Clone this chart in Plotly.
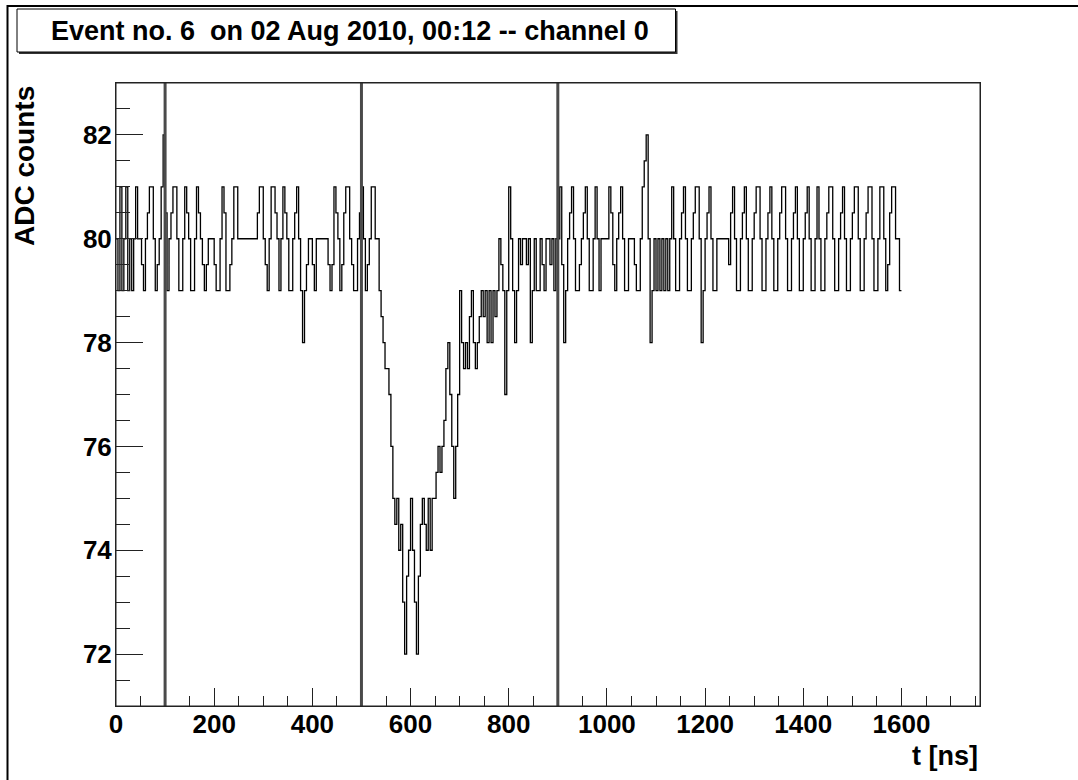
import numpy as np
import plotly.graph_objects as go

# ADC samples, one every 4 ns
sample_ns = 4
adc = [
    80, 79, 81, 79, 80, 81, 79, 80, 79, 80,
    81, 80, 80, 79.5, 79, 80, 80.5, 81, 81, 80,
    79, 79.5, 80, 81, 82, 80.5, 79, 80, 80.5, 81,
    81, 80, 79, 79, 80, 81, 80.5, 80, 79, 79,
    80, 81, 80.5, 80, 79.5, 79, 79.5, 80, 80, 80,
    79.5, 79, 79, 80, 81, 80.5, 79, 79, 79.5, 80,
    81, 81, 80, 80, 80, 80, 80, 80, 80, 80,
    80, 80, 80.5, 81, 81, 80, 79.5, 79, 80, 81,
    81, 80.5, 80, 79, 80, 81, 80.5, 80, 79, 79,
    80, 80.5, 81, 80, 79, 78, 79, 79.5, 80, 80,
    79.5, 79, 80, 80, 80, 80, 80, 80, 79.5, 79,
    79.5, 81, 80.5, 80, 79, 79.5, 80.5, 81, 81, 80,
    79.5, 79, 79, 80, 80.5, 81, 80, 79, 79.5, 80,
    81, 81, 80, 80, 79, 78.5, 78, 77.5, 77.5, 77,
    76, 75, 74.5, 75, 74, 74.5, 73, 72, 73.5, 74,
    75, 74, 73, 72, 73.5, 74.5, 75, 74.5, 74, 75,
    74, 75, 75, 75.5, 76, 75.5, 76, 76.5, 77.5, 78,
    77, 76, 75, 76, 77, 79, 78, 77.5, 78, 77.5,
    78.5, 79, 78, 77.5, 78, 78.5, 79, 78.5, 79, 78,
    79, 78, 79, 78.5, 79, 80, 79.5, 79, 77, 79,
    81, 80, 79, 78, 79, 80, 79.5, 80, 80, 79.5,
    80, 78, 79, 80, 79, 79, 80, 79.5, 79, 80,
    80, 79.5, 80, 79, 80, 80, 81, 79.5, 78, 79,
    80, 80.5, 81, 80, 79, 79, 79.5, 80, 80.5, 81,
    80, 79, 79, 80, 81, 80, 79, 80, 80, 80,
    80, 81, 80.5, 79.5, 79, 80, 80.5, 81, 80, 79,
    79, 80, 80, 80, 79.5, 79, 79, 80, 81, 81.5,
    82, 80, 78, 79, 80, 79, 80, 79, 80, 79,
    80, 79, 80, 81, 80, 79, 79, 80, 80.5, 81,
    80, 79, 79, 80, 80.5, 81, 81, 80, 78, 79,
    80, 80.5, 81, 80, 79, 79, 80, 80, 80, 80,
    80, 80, 79.5, 80.5, 81, 80, 79, 79, 80, 80.5,
    81, 80, 79, 79, 80, 80.5, 81, 81, 80, 79,
    79, 80, 80.5, 81, 80, 79, 79, 80, 80.5, 81,
    81, 80, 79, 79, 80, 80.5, 81, 80, 79, 79,
    80, 80.5, 81, 80, 79, 79, 80, 81, 80, 79,
    79, 80, 80.5, 81, 81, 80, 79, 79, 80, 80.5,
    81, 80, 79, 79, 80, 80.5, 81, 81, 80, 79,
    79, 80, 80.5, 81, 81, 80, 79, 79, 80, 81,
    81, 80, 79, 79.5, 80.5, 81, 81, 80, 80, 79,
]
marker_lines_ns = [100, 500, 900]
x_range = [0, 1760]
y_range = [71, 83]
title_text = "Event no. 6 \u00a0on 02 Aug 2010, 00:12 -- channel 0"
x_title = "t [ns]"
y_title = "ADC counts"

# bin edges (step histogram)
t = np.arange(len(adc) + 1) * sample_ns
y = list(adc) + [adc[-1]]

W, H = 1078, 780
L, R, T, B = 116, 98, 83, 74
pw, ph = W - L - R, H - T - B


def px(xp):
    return (xp - L) / pw


def py(yp):
    return 1 - (yp - T) / ph


FONT = "Liberation Sans, Arial, Helvetica, sans-serif"

fig = go.Figure()
fig.add_trace(go.Scatter(x=t, y=y, mode="lines", line=dict(color="black", width=1.3, shape="hv"),
                         hoverinfo="x+y", showlegend=False))

shapes = []
for v in marker_lines_ns:
    shapes.append(dict(type="line", xref="x", yref="paper", x0=v, x1=v, y0=0, y1=1,
                       line=dict(color="#4a4a4a", width=3), layer="above"))
# outer canvas frame
shapes.append(dict(type="rect", xref="paper", yref="paper", x0=px(7.5), x1=px(1090), y0=py(6), y1=py(792),
                   line=dict(color="black", width=2), layer="below"))
# title box shadow + box
shapes.append(dict(type="rect", xref="paper", yref="paper", x0=px(19), x1=px(677.5), y0=py(54), y1=py(11),
                   line=dict(color="#333333", width=0), fillcolor="#333333", layer="above"))
shapes.append(dict(type="rect", xref="paper", yref="paper", x0=px(17), x1=px(675.5), y0=py(52), y1=py(9),
                   line=dict(color="black", width=1), fillcolor="white", layer="above"))
# plot frame
shapes.append(dict(type="rect", xref="paper", yref="paper", x0=0, x1=1, y0=0, y1=1,
                   line=dict(color="#222222", width=1), layer="above"))

annotations = [
    dict(text=title_text, xref="paper", yref="paper", x=px(350), y=py(31), xanchor="center", yanchor="middle",
         showarrow=False, font=dict(family=FONT, size=27, color="black", weight="bold")),
    dict(text=x_title, xref="paper", yref="paper", x=1, y=py(756), xanchor="right", yanchor="middle",
         showarrow=False, font=dict(family=FONT, size=27, color="black", weight="bold")),
    dict(text=y_title, xref="paper", yref="paper", x=px(24), y=py(84), xanchor="center", yanchor="top",
         textangle=-90, showarrow=False, font=dict(family=FONT, size=28, color="black", weight="bold")),
]

fig.update_layout(
    width=W, height=H,
    margin=dict(l=L, r=R, t=T, b=B, pad=0),
    paper_bgcolor="white", plot_bgcolor="white",
    shapes=shapes, annotations=annotations,
    showlegend=False,
    xaxis=dict(range=x_range, showgrid=False, zeroline=False, showline=True, linecolor="#222222", linewidth=1,
               mirror=True, ticks="inside", ticklen=18, tickcolor="#222222", tickwidth=1,
               tick0=0, dtick=200,
               minor=dict(ticks="inside", ticklen=10, dtick=50, tick0=0, tickcolor="#222222", showgrid=False),
               tickfont=dict(family=FONT, size=26, color="black", weight="bold"),
               ticklabelstandoff=-5),
    yaxis=dict(range=y_range, showgrid=False, zeroline=False, showline=True, linecolor="#222222", linewidth=1,
               mirror=True, ticks="inside", ticklen=27, tickcolor="#222222", tickwidth=1,
               tick0=72, dtick=2,
               minor=dict(ticks="inside", ticklen=14, dtick=0.5, tick0=72, tickcolor="#222222", showgrid=False),
               tickfont=dict(family=FONT, size=26, color="black", weight="bold"),
               ticklabelstandoff=-2),
)

fig.write_html("out.html")
